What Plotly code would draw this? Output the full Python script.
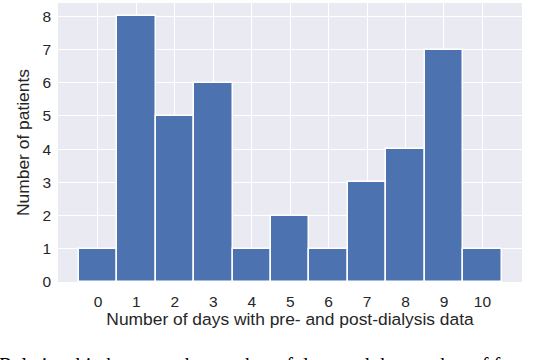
import plotly.graph_objects as go

# histogram counts
days = [0, 1, 2, 3, 4, 5, 6, 7, 8, 9, 10]
patients = [1, 8, 5, 6, 1, 2, 1, 3, 4, 7, 1]
y_ticks = [0, 1, 2, 3, 4, 5, 6, 7, 8]
caption = "Relationship between the number of days and the number of f"

fig = go.Figure()
fig.add_trace(go.Bar(x=days, y=patients, width=1,
                     marker=dict(color="#4C72B0", line=dict(color="white", width=1.5))))

fig.update_layout(
    width=540, height=360,
    margin=dict(l=58, r=18, t=2.5, b=78),
    paper_bgcolor="white", plot_bgcolor="#EAEAF2",
    font=dict(family="Liberation Sans, Arial", size=15.5, color="#262626"),
    showlegend=False, bargap=0,
)
fig.update_xaxes(range=[-1.04, 11.03], tickvals=days, showgrid=True, automargin=False,
                 gridcolor="white", gridwidth=1.2, zeroline=False, ticks="",
                 ticklabelstandoff=8,
                 title=dict(text="Number of days with pre- and post-dialysis data",
                            font=dict(size=17.4), standoff=4))
fig.update_yaxes(range=[0, 8.4], tickvals=y_ticks, showgrid=True, automargin=False,
                 gridcolor="white", gridwidth=1.2, zeroline=False, ticks="",
                 ticklabelstandoff=6,
                 title=dict(text="Number of patients", font=dict(size=17.4), standoff=8))

# caption of the source page, clipped by the bottom edge as in the original
fig.add_annotation(text=caption, xref="paper", yref="paper", x=-0.131, y=-0.25,
                   xanchor="left", yanchor="top", showarrow=False,
                   font=dict(family="Liberation Serif, Times New Roman", size=20.3, color="black"))

# drop the browser's default 8px body margin so the figure sits at the window corner
fig.write_html("out.html", config={"displayModeBar": False},
               post_script="document.body.style.margin='0';")
